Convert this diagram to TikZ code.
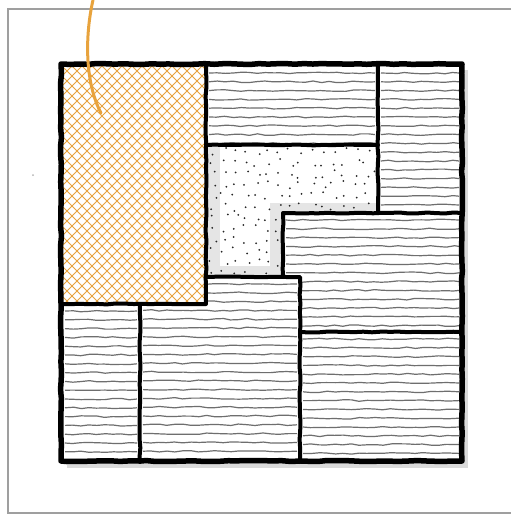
\documentclass[tikz,border=0pt]{standalone}
\usepackage{xcolor}
\usepackage{tikz}
\usetikzlibrary{decorations.pathmorphing}
\definecolor{hatchorange}{HTML}{E8A33D}
\definecolor{stripegray}{HTML}{6E6E6E}
\definecolor{shadowgray}{HTML}{DADADA}

\tikzset{
  wobbly/.style={decorate, decoration={random steps, segment length=9pt, amplitude=0.5pt}},
  stripe/.style={stripegray, line width=1.2pt, line join=round, decorate,
    decoration={random steps, segment length=8pt, amplitude=0.8pt}},
  wall/.style={black, line width=4pt, line join=round, line cap=round},
  outerwall/.style={black, line width=5.5pt, line join=round, line cap=round},
}

% horizontal stripes inside a clipped piece: {clip path}{left}{right}{top}
\newcommand{\stripedpiece}[4]{%
  \begin{scope}
    \clip #1;
    \foreach \k in {0,...,21} {
      \pgfmathsetmacro\yy{#4+7+8.8*\k}
      \draw[stripe] (#2+3,\yy) -- (#3-3,\yy);
    }
  \end{scope}}

\begin{document}
\begin{tikzpicture}[x=1pt, y=-1pt]
  \useasboundingbox (0,0) rectangle (511,519);
  \pgfmathsetseed{7}

  % paper frame
  \draw[gray!75, line width=2.4pt] (511,9) -- (8,9) -- (8,513) -- (511,513);
  \fill[gray!60] (33,175) circle (1pt);

  % drop shadow
  \fill[shadowgray] (67,70) rectangle (468,468);
  \fill[white] (61,64) rectangle (462,461);

  % stripes
  \stripedpiece{(206,66) rectangle (378,145)}{206}{378}{66}
  \stripedpiece{(378,66) rectangle (462,213)}{378}{462}{66}
  \stripedpiece{(283,213) -- (462,213) -- (462,332) -- (300,332) -- (300,277) -- (283,277) -- cycle}{283}{462}{213}
  \stripedpiece{(140,304) -- (206,304) -- (206,277) -- (300,277) -- (300,462) -- (140,462) -- cycle}{140}{300}{277}
  \stripedpiece{(62,304) rectangle (140,462)}{62}{140}{304}
  \stripedpiece{(300,332) rectangle (462,462)}{300}{462}{332}

  % dotted L
  \begin{scope}
    \clip (206,145) -- (378,145) -- (378,213) -- (283,213) -- (283,277) -- (206,277) -- cycle;
    \fill[shadowgray!70] (206,145) rectangle (220,277);
    \fill[shadowgray!70] (206,266) rectangle (283,277);
    \fill[shadowgray!70] (270,213) rectangle (283,277);
    \fill[shadowgray!70] (270,203) rectangle (378,213);
    \foreach \i in {0,...,15} {
      \foreach \j in {0,...,11} {
        \fill[black!85] ({213+11*\i+4*rand},{152+11*\j+4*rand}) circle (1pt);
      }
    }
  \end{scope}

  % crosshatched block
  \begin{scope}
    \clip (62,66) rectangle (206,304);
    \foreach \k in {-25,...,16} {
      \draw[hatchorange, line width=0.9pt] (62+10*\k,66) -- ++(240,240);
    }
    \foreach \k in {0,...,40} {
      \draw[hatchorange, line width=0.9pt] (62+10*\k,66) -- ++(-240,240);
    }
  \end{scope}

  % walls
  \draw[wall, wobbly] (206,145) -- (378,145);
  \draw[wall, wobbly] (378,66) -- (378,213);
  \draw[wall, wobbly] (283,277) -- (283,213) -- (462,213);
  \draw[wall, wobbly] (206,277) -- (300,277) -- (300,462);
  \draw[wall, wobbly] (300,332) -- (462,332);
  \draw[wall, wobbly] (140,304) -- (140,462);
  \draw[wall, wobbly] (62,304) -- (206,304) -- (206,66);
  \draw[outerwall, wobbly] (61,64) -- (462,64) -- (462,461) -- (61,461) -- cycle;

  % orange lead
  \draw[hatchorange, line width=3pt, line cap=round] (93,0) .. controls (84,40) and (86,85) .. (101,113);
\end{tikzpicture}
\end{document}
